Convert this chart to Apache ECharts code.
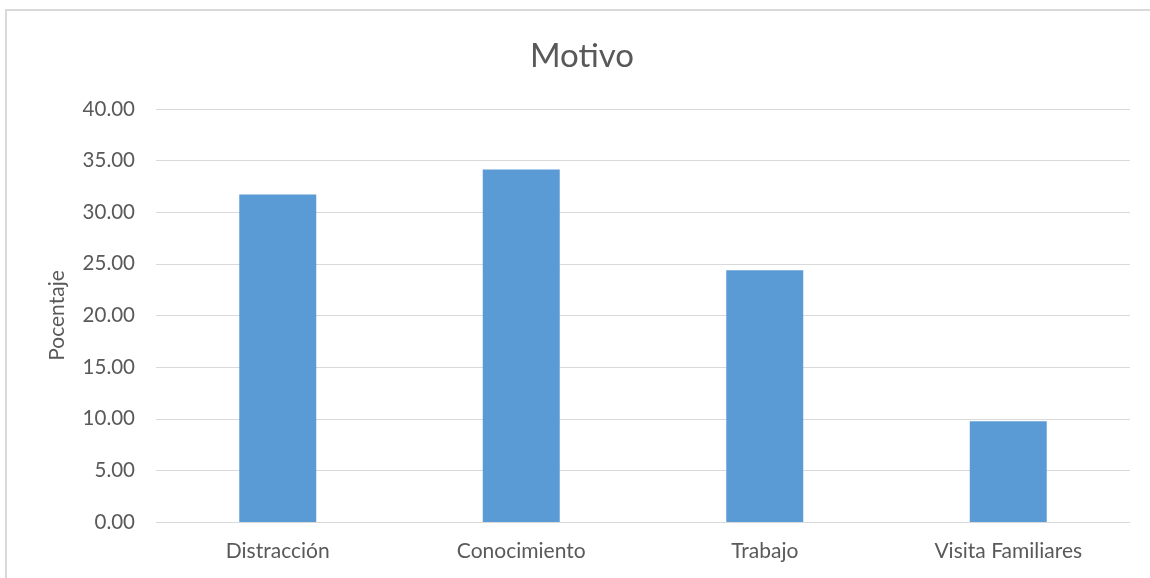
<!DOCTYPE html>
<html>
<head>
<meta charset="utf-8">
<script src="https://cdn.jsdelivr.net/npm/echarts@6/dist/echarts.min.js"></script>
<style>
  html, body { margin: 0; padding: 0; background: #ffffff; }
  #chart { width: 1150px; height: 578px; }
</style>
</head>
<body>
<div id="chart"></div>
<script>
// Motivo de la visita (porcentaje)
const categories = ['Distracción', 'Conocimiento', 'Trabajo', 'Visita Familiares'];
const porcentajes = [31.71, 34.15, 24.39, 9.76];
const yTicks = { min: 0, max: 40, interval: 5 };

const FONT = 'Lato, "Open Sans", sans-serif';
const TEXT = '#595959';
const GRID = '#d9d9d9';

const chart = echarts.init(document.getElementById('chart'), null, { renderer: 'canvas' });
chart.setOption({
  backgroundColor: '#ffffff',
  animation: false,
  graphic: [{
    type: 'rect',
    shape: { x: 6, y: 10, width: 1200, height: 600 },
    style: { fill: 'transparent', stroke: GRID, lineWidth: 2 },
    silent: true
  }, {
    type: 'text',
    x: 582,
    y: 56,
    style: {
      text: 'Motivo',
      fontFamily: FONT, fontSize: 33, fill: TEXT,
      align: 'center', verticalAlign: 'middle'
    },
    silent: true
  }],
  grid: { left: 156, right: 20, top: 109, bottom: 56 },
  xAxis: {
    type: 'category',
    data: categories,
    axisLine: { show: true, lineStyle: { color: GRID, width: 1 } },
    axisTick: { show: false },
    axisLabel: { fontFamily: FONT, fontSize: 21, color: TEXT, margin: 19 }
  },
  yAxis: {
    type: 'value',
    min: yTicks.min,
    max: yTicks.max,
    interval: yTicks.interval,
    name: 'Pocentaje',
    nameLocation: 'middle',
    nameGap: 88,
    nameTextStyle: { fontFamily: FONT, fontSize: 21, color: TEXT },
    axisLine: { show: false },
    axisTick: { show: false },
    splitLine: { lineStyle: { color: GRID, width: 1 } },
    axisLabel: {
      fontFamily: FONT, fontSize: 20.5, color: TEXT, margin: 21,
      formatter: v => v.toFixed(2)
    }
  },
  series: [{
    type: 'bar',
    data: porcentajes,
    barWidth: 77,
    itemStyle: { color: '#5b9bd5' }
  }]
});
</script>
</body>
</html>
